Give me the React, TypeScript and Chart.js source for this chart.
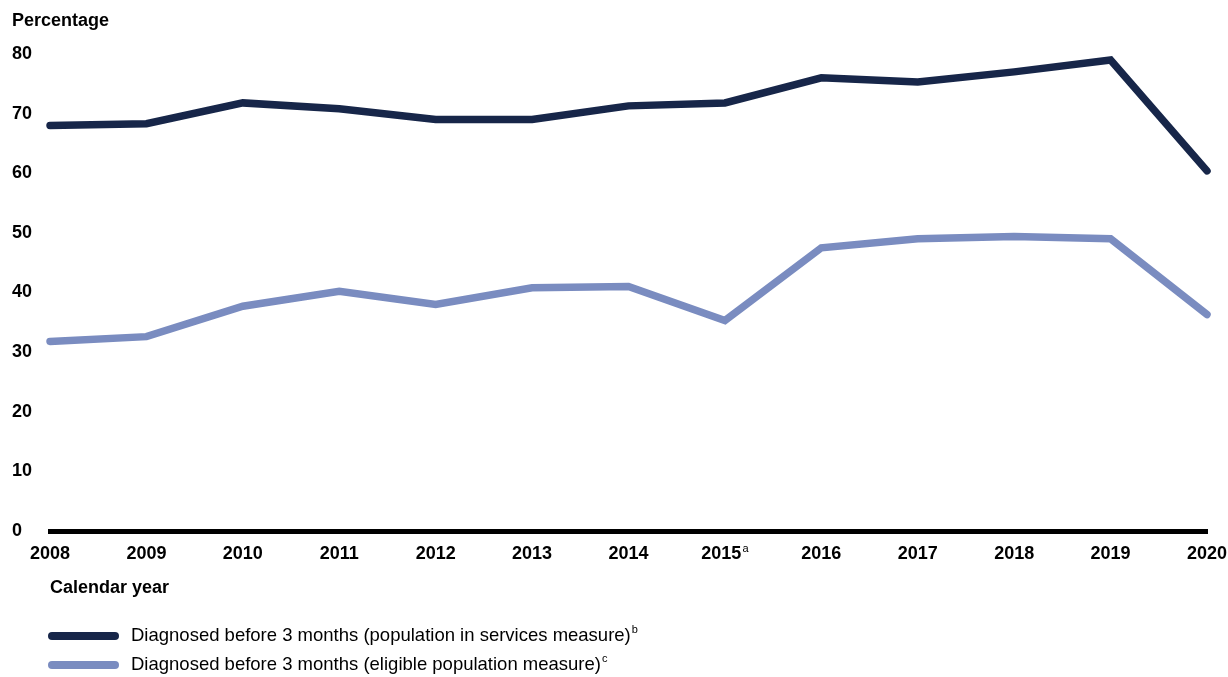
import React, { useEffect, useRef } from "react";
import { Chart, registerables } from "chart.js";

Chart.register(...registerables);

const years = ["2008", "2009", "2010", "2011", "2012", "2013", "2014", "2015", "2016", "2017", "2018", "2019", "2020"];
const yearNotes = ["", "", "", "", "", "", "", "a", "", "", "", "", ""];
const servicesMeasure = [68.0, 68.3, 71.8, 70.8, 69.0, 69.0, 71.3, 71.8, 76.0, 75.3, 77.0, 79.0, 60.4];
const eligibleMeasure = [31.8, 32.6, 37.7, 40.2, 38.0, 40.8, 41.0, 35.3, 47.5, 49.0, 49.4, 49.0, 36.3];
const seriesNames = [
  "Diagnosed before 3 months (population in services measure)",
  "Diagnosed before 3 months (eligible population measure)",
];
const seriesNotes = ["b", "c"];
const yTitle = "Percentage";
const xTitle = "Calendar year";

const DARK = "#172649";
const LIGHT = "#7a8cc0";
const FONT = "'Liberation Sans', Arial, sans-serif";

const textPlugin = {
  id: "customText",
  afterDraw(chart: any) {
    const ctx = chart.ctx;
    const xs = chart.scales.x;
    const area = chart.chartArea;
    ctx.save();
    ctx.fillStyle = "#000";
    ctx.textBaseline = "middle";
    ctx.textAlign = "left";
    // y title
    ctx.font = `bold 18px ${FONT}`;
    ctx.fillText(yTitle, 12, 21);
    // x tick labels
    const ly = area.bottom + 23;
    years.forEach((y, i) => {
      const cx = xs.getPixelForValue(i);
      ctx.font = `bold 18px ${FONT}`;
      const w = ctx.measureText(y).width;
      const note = yearNotes[i];
      let nw = 0;
      if (note) {
        ctx.font = `11px ${FONT}`;
        nw = ctx.measureText(note).width + 1;
      }
      const start = cx - (w + nw) / 2;
      ctx.font = `bold 18px ${FONT}`;
      ctx.fillText(y, start, ly);
      if (note) {
        ctx.font = `11px ${FONT}`;
        ctx.fillText(note, start + w + 1, ly - 5);
      }
    });
    // x title
    ctx.font = `bold 18px ${FONT}`;
    ctx.fillText(xTitle, 50, 588);
    // legend
    const colors = [DARK, LIGHT];
    const rows = [636, 665];
    seriesNames.forEach((name, i) => {
      const y = rows[i];
      ctx.strokeStyle = colors[i];
      ctx.lineWidth = 8;
      ctx.lineCap = "round";
      ctx.beginPath();
      ctx.moveTo(52, y);
      ctx.lineTo(115, y);
      ctx.stroke();
      ctx.font = `18.5px ${FONT}`;
      ctx.fillText(name, 131, y);
      const w = ctx.measureText(name).width;
      ctx.font = `11px ${FONT}`;
      ctx.fillText(seriesNotes[i], 131 + w + 1, y - 6);
    });
    ctx.restore();
  },
};

export default function App() {
  const ref = useRef<HTMLCanvasElement | null>(null);
  useEffect(() => {
    document.body.style.margin = "0";
    if (!ref.current) return;
    const chart = new Chart(ref.current, {
      type: "line",
      data: {
        labels: years,
        datasets: [
          {
            label: seriesNames[0],
            data: servicesMeasure,
            borderColor: DARK,
            backgroundColor: DARK,
            borderWidth: 7.5,
            borderCapStyle: "round",
            borderJoinStyle: "miter",
            pointRadius: 0,
            tension: 0,
            clip: false as any,
          },
          {
            label: seriesNames[1],
            data: eligibleMeasure,
            borderColor: LIGHT,
            backgroundColor: LIGHT,
            borderWidth: 7.5,
            borderCapStyle: "round",
            borderJoinStyle: "miter",
            pointRadius: 0,
            tension: 0,
            clip: false as any,
          },
        ],
      },
      options: {
        animation: false,
        responsive: true,
        maintainAspectRatio: false,
        layout: { padding: { left: 12, right: 21, top: 54, bottom: 146 } },
        plugins: { legend: { display: false }, tooltip: { enabled: false } },
        scales: {
          x: {
            grid: { display: false, drawTicks: false },
            border: { display: true, color: "#000", width: 5 },
            ticks: { display: false },
            afterFit: (s: any) => {
              s.height = 0;
            },
          },
          y: {
            min: 0,
            max: 80,
            grid: { display: false, drawTicks: false },
            border: { display: false },
            ticks: {
              stepSize: 10,
              crossAlign: "far",
              padding: 0,
              color: "#000",
              font: { family: FONT, size: 18, weight: "bold" },
            },
            afterFit: (s: any) => {
              s.width = 38;
            },
          },
        },
      },
      plugins: [textPlugin],
    });
    return () => chart.destroy();
  }, []);
  return (
    <div style={{ width: 1228, height: 677, position: "relative" }}>
      <canvas ref={ref} />
    </div>
  );
}
